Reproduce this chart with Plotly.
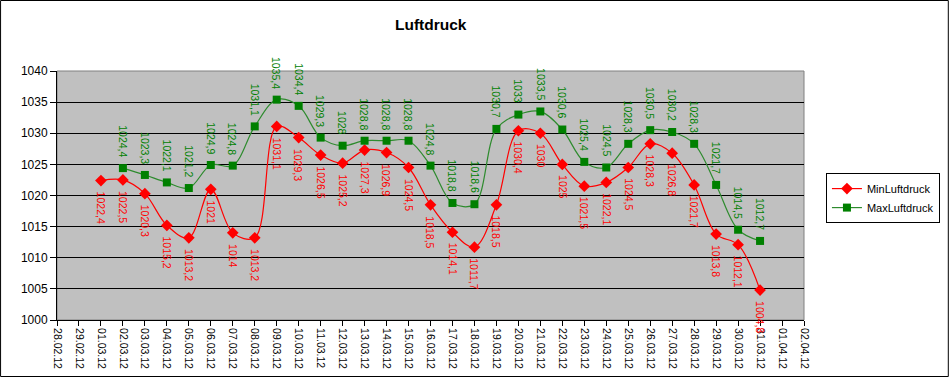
import plotly.graph_objects as go

dates = ["28.02.12", "29.02.12"] + [f"{d:02d}.03.12" for d in range(1, 32)] + ["01.04.12", "02.04.12"]

min_dates = [f"{d:02d}.03.12" for d in range(1, 32)]
min_vals = [1022.4, 1022.5, 1020.3, 1015.2, 1013.2, 1021.0, 1014.0, 1013.2, 1031.1, 1029.3,
            1026.5, 1025.2, 1027.3, 1026.9, 1024.5, 1018.5, 1014.1, 1011.7, 1018.5, 1030.4,
            1030.0, 1025.0, 1021.5, 1022.1, 1024.5, 1028.3, 1026.8, 1021.7, 1013.8, 1012.1, 1004.8]

max_dates = [f"{d:02d}.03.12" for d in range(2, 32)]
max_vals = [1024.4, 1023.3, 1022.1, 1021.2, 1024.9, 1024.8, 1031.1, 1035.4, 1034.4,
            1029.3, 1028.0, 1028.8, 1028.8, 1028.8, 1024.8, 1018.8, 1018.6, 1030.7, 1033.0,
            1033.5, 1030.6, 1025.4, 1024.5, 1028.3, 1030.5, 1030.2, 1028.3, 1021.7, 1014.5, 1012.7]

y_ticks = list(range(1000, 1041, 5))

def fmt(v):
    s = f"{v:.1f}"
    if s.endswith(".0"):
        s = s[:-2]
    return s.replace(".", ",")

FONT = "Liberation Sans, Arial, sans-serif"
NARROW = "Liberation Sans Narrow, Arial Narrow, Liberation Sans, sans-serif"
RED = "#FF0000"
GREEN = "#008000"

fig = go.Figure()
fig.add_trace(go.Scatter(
    x=min_dates, y=min_vals, name="MinLuftdruck", mode="lines+markers",
    line=dict(color=RED, width=1.2, shape="spline", smoothing=1.0),
    marker=dict(symbol="diamond", size=9, color=RED),
))
fig.add_trace(go.Scatter(
    x=max_dates, y=max_vals, name="MaxLuftdruck", mode="lines+markers",
    line=dict(color="#2E8B2E", width=1.2, shape="spline", smoothing=1.0),
    marker=dict(symbol="square", size=8, color=GREEN),
))

annotations = []
for d, v in zip(min_dates, min_vals):
    annotations.append(dict(x=d, y=v, text=fmt(v), showarrow=False, textangle=90,
                            xanchor="center", yanchor="top", yshift=-9,
                            font=dict(family=NARROW, size=10.5, color=RED)))
for d, v in zip(max_dates, max_vals):
    annotations.append(dict(x=d, y=v, text=fmt(v), showarrow=False, textangle=90,
                            xanchor="center", yanchor="bottom", yshift=9,
                            font=dict(family=NARROW, size=10.5, color=GREEN)))
annotations.append(dict(x=0.5, y=1, xref="paper", yref="paper", yshift=47, text="<b>Luftdruck</b>",
                        showarrow=False, xanchor="center", yanchor="middle",
                        font=dict(family=FONT, size=15.5, color="black")))

fig.update_layout(
    width=951, height=378,
    margin=dict(l=57, r=146, t=71, b=58),
    paper_bgcolor="white", plot_bgcolor="#C0C0C0",
    font=dict(family=FONT, size=11, color="black"),
    showlegend=True,
    legend=dict(x=1.028, y=0.59, xanchor="left", yanchor="top",
                bordercolor="black", borderwidth=1, bgcolor="white",
                font=dict(family=FONT, size=11), tracegroupgap=4),
    annotations=annotations,
    xaxis=dict(type="category", categoryorder="array", categoryarray=dates,
               tickmode="array", tickvals=dates, ticktext=dates,
               range=[0, len(dates) - 1], tickangle=90,
               ticks="outside", ticklen=5, tickcolor="black",
               showline=True, linecolor="black", linewidth=1, mirror=False,
               showgrid=False, zeroline=False, automargin=False,
               tickfont=dict(family=NARROW, size=10.5)),
    yaxis=dict(range=[1000, 1040], tickvals=y_ticks, ticktext=[str(t) for t in y_ticks],
               ticks="outside", ticklen=6, tickcolor="black",
               showline=True, linecolor="black", linewidth=1,
               showgrid=True, gridcolor="black", gridwidth=1, zeroline=False, automargin=False,
               tickfont=dict(family=FONT, size=12)),
    shapes=[
        dict(type="rect", xref="paper", yref="paper", x0=0, x1=1, y0=0, y1=1,
             line=dict(color="#808080", width=1), layer="below"),
        dict(type="rect", xref="paper", yref="paper",
             x0=(0.5 - 57) / 748, x1=(949.5 - 57) / 748,
             y0=(320 - 376.5) / 249, y1=(320 - 0.5) / 249,
             line=dict(color="black", width=1)),
    ],
)

fig.write_html("out.html", config={"displayModeBar": False},
               post_script="document.body.style.margin='0';document.body.style.padding='0';")
